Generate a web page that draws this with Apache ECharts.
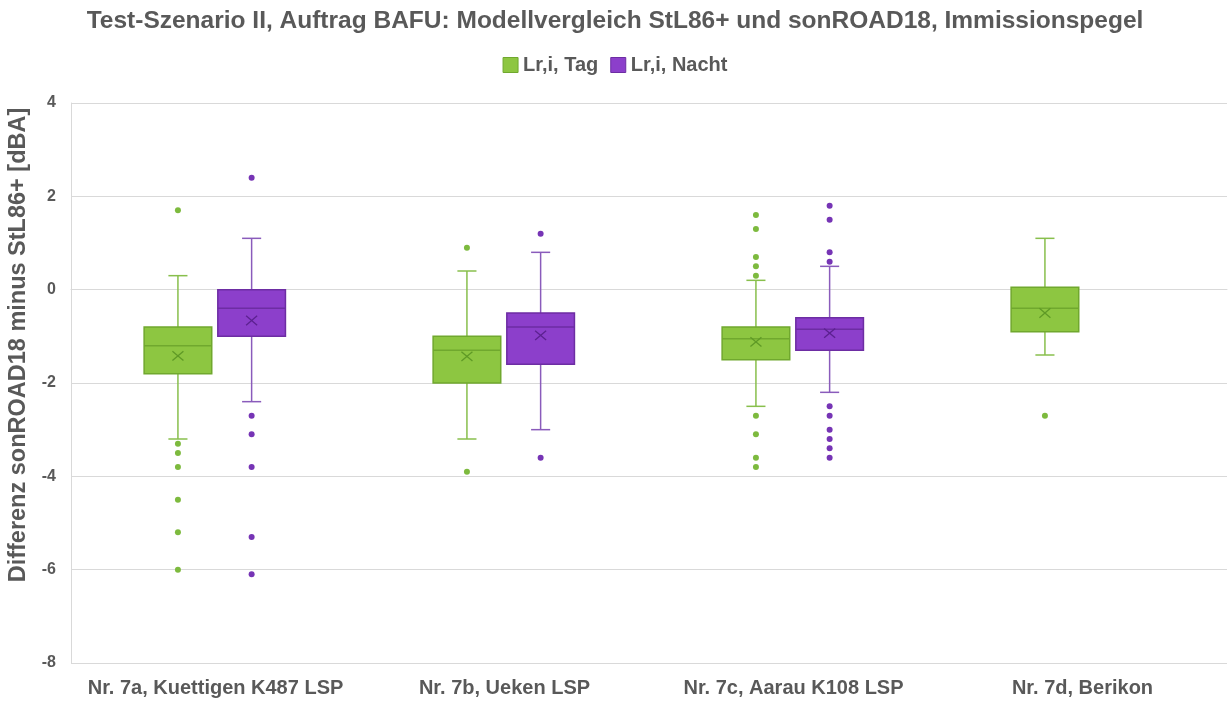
<!DOCTYPE html>
<html>
<head>
<meta charset="utf-8">
<script src="https://cdn.jsdelivr.net/npm/echarts@6/dist/echarts.min.js"></script>
<style>
  html, body { margin: 0; padding: 0; background: #fff; }
  #chart { width: 1230px; height: 702px; }
</style>
</head>
<body>
<div id="chart"></div>
<script>
// Measurement locations (category axis)
const categories = ['Nr. 7a, Kuettigen K487 LSP', 'Nr. 7b, Ueken LSP', 'Nr. 7c, Aarau K108 LSP', 'Nr. 7d, Berikon'];

// Box statistics per location: [min whisker, Q1, median, Q3, max whisker, mean]
const tagStats = [
  [-3.2, -1.8, -1.2, -0.8, 0.3, -1.42],
  [-3.2, -2.0, -1.3, -1.0, 0.4, -1.43],
  [-2.5, -1.5, -1.05, -0.8, 0.2, -1.12],
  [-1.4, -0.9, -0.4, 0.05, 1.1, -0.5]
];
const nachtStats = [
  [-2.4, -1.0, -0.4, 0.0, 1.1, -0.66],
  [-3.0, -1.6, -0.8, -0.5, 0.8, -0.98],
  [-2.2, -1.3, -0.85, -0.6, 0.5, -0.93],
  null
];

// Outliers: [location index, value]
const tagOutliers = [
  [0, 1.7], [0, -3.3], [0, -3.5], [0, -3.8], [0, -4.5], [0, -5.2], [0, -6.0],
  [1, 0.9], [1, -3.9],
  [2, 1.6], [2, 1.3], [2, 0.7], [2, 0.5], [2, 0.3], [2, -2.7], [2, -3.1], [2, -3.6], [2, -3.8],
  [3, -2.7]
];
const nachtOutliers = [
  [0, 2.4], [0, -2.7], [0, -3.1], [0, -3.8], [0, -5.3], [0, -6.1],
  [1, 1.2], [1, -3.6],
  [2, 1.8], [2, 1.5], [2, 0.8], [2, 0.6], [2, -2.5], [2, -2.7], [2, -3.0], [2, -3.2], [2, -3.4], [2, -3.6]
];

// Y axis ticks
const yMin = -8, yMax = 4, yStep = 2;

const TEXT = '#595959';
const FONT = '"Liberation Sans", Arial, sans-serif';

const tagColors = { fill: '#8dc641', stroke: '#70a82e', whisker: '#88bf4c', mean: '#5f9a26', dot: '#7dba3e' };
const nachtColors = { fill: '#8c3fcb', stroke: '#6d2da3', whisker: '#8a5bbb', mean: '#5c2190', dot: '#7634b5' };

function statsToData(stats) {
  const out = [];
  stats.forEach(function (s, i) {
    if (s) out.push([i].concat(s));
  });
  return out;
}

// Draws one box-and-whisker with its mean cross, shifted sideways within the category band
function boxRenderer(offsetFrac, c) {
  return function (params, api) {
    const cat = api.value(0);
    const band = api.size([1, 0])[0];
    const cx = api.coord([cat, 0])[0] + band * offsetFrac;
    const half = band * 0.117;
    const capHalf = band * 0.033;
    const y = function (dim) { return api.coord([cat, api.value(dim)])[1]; };
    const yLo = y(1), yQ1 = y(2), yMed = y(3), yQ3 = y(4), yHi = y(5), yMean = y(6);
    const lineStyle = { stroke: c.whisker, lineWidth: 1.5 };
    const m = 5.5;
    return {
      type: 'group',
      children: [
        { type: 'line', shape: { x1: cx, y1: yHi, x2: cx, y2: yQ3 }, style: lineStyle },
        { type: 'line', shape: { x1: cx, y1: yQ1, x2: cx, y2: yLo }, style: lineStyle },
        { type: 'line', shape: { x1: cx - capHalf, y1: yHi, x2: cx + capHalf, y2: yHi }, style: lineStyle },
        { type: 'line', shape: { x1: cx - capHalf, y1: yLo, x2: cx + capHalf, y2: yLo }, style: lineStyle },
        { type: 'rect', shape: { x: cx - half, y: yQ3, width: half * 2, height: yQ1 - yQ3 },
          style: { fill: c.fill, stroke: c.stroke, lineWidth: 1.5 } },
        { type: 'line', shape: { x1: cx - half, y1: yMed, x2: cx + half, y2: yMed },
          style: { stroke: c.stroke, lineWidth: 1.5 } },
        { type: 'line', shape: { x1: cx - m, y1: yMean - m * 0.85, x2: cx + m, y2: yMean + m * 0.85 },
          style: { stroke: c.mean, lineWidth: 1.3 } },
        { type: 'line', shape: { x1: cx - m, y1: yMean + m * 0.85, x2: cx + m, y2: yMean - m * 0.85 },
          style: { stroke: c.mean, lineWidth: 1.3 } }
      ]
    };
  };
}

// Draws outlier dots at the same sideways shift as their box
function dotRenderer(offsetFrac, c) {
  return function (params, api) {
    const cat = api.value(0);
    const band = api.size([1, 0])[0];
    const p = api.coord([cat, api.value(1)]);
    return {
      type: 'circle',
      shape: { cx: p[0] + band * offsetFrac, cy: p[1], r: 3 },
      style: { fill: c.dot }
    };
  };
}

const chart = echarts.init(document.getElementById('chart'), null, { renderer: 'canvas' });

chart.setOption({
  animation: false,
  backgroundColor: '#fff',
  textStyle: { fontFamily: FONT },
  title: {
    text: 'Test-Szenario II, Auftrag BAFU: Modellvergleich StL86+ und sonROAD18, Immissionspegel',
    left: 'center',
    top: 4,
    textStyle: { color: TEXT, fontSize: 24.5, fontWeight: 'bold', fontFamily: FONT }
  },
  legend: {
    top: 50,
    left: 'center',
    itemWidth: 15,
    itemHeight: 15,
    itemGap: 12,
    textStyle: { color: TEXT, fontSize: 20, fontWeight: 'bold', fontFamily: FONT },
    data: [
      { name: 'Lr,i, Tag', icon: 'rect', itemStyle: { color: tagColors.fill, borderColor: tagColors.stroke, borderWidth: 1 } },
      { name: 'Lr,i, Nacht', icon: 'rect', itemStyle: { color: nachtColors.fill, borderColor: nachtColors.stroke, borderWidth: 1 } }
    ]
  },
  grid: { left: 71, right: 3, top: 103, bottom: 39, containLabel: false, outerBoundsMode: 'none' },
  xAxis: {
    type: 'category',
    data: categories,
    boundaryGap: true,
    axisTick: { show: false },
    axisLine: { show: true, lineStyle: { color: '#d9d9d9', width: 1 } },
    axisLabel: { interval: 0, color: TEXT, fontSize: 20, fontWeight: 'bold', fontFamily: FONT, margin: 15 },
    splitLine: { show: false }
  },
  yAxis: {
    type: 'value',
    min: yMin,
    max: yMax,
    interval: yStep,
    name: 'Differenz sonROAD18 minus StL86+ [dBA]',
    nameLocation: 'middle',
    nameRotate: 90,
    nameGap: 40,
    nameTextStyle: { color: TEXT, fontSize: 23.5, fontWeight: 'bold', fontFamily: FONT, padding: [0, 0, 0, 76] },
    axisLine: { show: true, lineStyle: { color: '#d9d9d9', width: 1 } },
    axisTick: { show: false },
    axisLabel: { color: TEXT, fontSize: 16, fontWeight: 'bold', fontFamily: FONT, margin: 15 },
    splitLine: { show: true, lineStyle: { color: '#d9d9d9', width: 1 } }
  },
  series: [
    {
      name: 'Lr,i, Tag', type: 'custom',
      itemStyle: { color: tagColors.fill },
      renderItem: boxRenderer(-0.13, tagColors),
      encode: { x: 0, y: [1, 2, 3, 4, 5, 6] },
      data: statsToData(tagStats), z: 2
    },
    {
      name: 'Lr,i, Nacht', type: 'custom',
      itemStyle: { color: nachtColors.fill },
      renderItem: boxRenderer(0.125, nachtColors),
      encode: { x: 0, y: [1, 2, 3, 4, 5, 6] },
      data: statsToData(nachtStats), z: 2
    },
    {
      name: 'Lr,i, Tag', type: 'custom',
      itemStyle: { color: tagColors.fill },
      renderItem: dotRenderer(-0.13, tagColors),
      encode: { x: 0, y: 1 },
      data: tagOutliers, z: 3
    },
    {
      name: 'Lr,i, Nacht', type: 'custom',
      itemStyle: { color: nachtColors.fill },
      renderItem: dotRenderer(0.125, nachtColors),
      encode: { x: 0, y: 1 },
      data: nachtOutliers, z: 3
    }
  ]
});
</script>
</body>
</html>
